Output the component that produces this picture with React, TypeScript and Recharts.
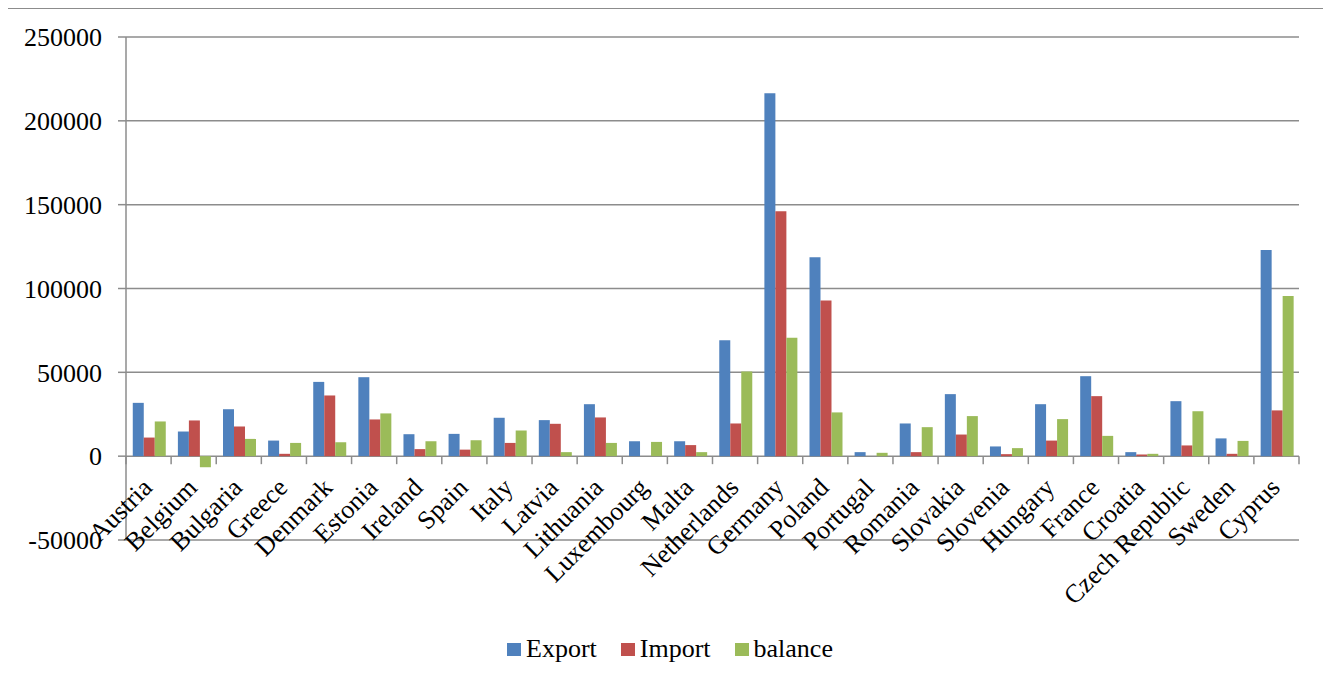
import React from "react";
import { BarChart, Bar, XAxis, YAxis, CartesianGrid } from "recharts";

const countries = [
  "Austria", "Belgium", "Bulgaria", "Greece", "Denmark", "Estonia", "Ireland", "Spain", "Italy",
  "Latvia", "Lithuania", "Luxembourg", "Malta", "Netherlands", "Germany", "Poland", "Portugal",
  "Romania", "Slovakia", "Slovenia", "Hungary", "France", "Croatia", "Czech Republic", "Sweden", "Cyprus",
];
const exportValues = [
  31800, 14700, 28000, 9300, 44300, 47100, 13100, 13300, 22900, 21500, 31000, 8900, 8900, 69200,
  216400, 118600, 2400, 19500, 37000, 5800, 31000, 47700, 2400, 32800, 10600, 122900,
];
const importValues = [
  11100, 21300, 17700, 1400, 36200, 21900, 4200, 3900, 7900, 19300, 23100, 0, 6600, 19500,
  146000, 92900, 0, 2400, 12900, 1200, 9300, 35800, 1000, 6400, 1400, 27300,
];
const balanceValues = [
  20700, -6600, 10300, 7900, 8300, 25500, 8900, 9500, 15300, 2400, 7900, 8500, 2400, 50500,
  70600, 26100, 2000, 17300, 23900, 4800, 22100, 12100, 1400, 26800, 9100, 95600,
];
const yTicks = [-50000, 0, 50000, 100000, 150000, 200000, 250000];

const data = countries.map((name, i) => ({
  name,
  Export: exportValues[i],
  Import: importValues[i],
  balance: balanceValues[i],
}));

const FONT = '"Times New Roman", "Liberation Serif", serif';
const GRID = "#8c8c8c";
const COLORS = { Export: "#4F81BD", Import: "#C0504D", balance: "#9BBB59" };

const W = 1310;
const H = 600;
const M = { top: 28, right: 19, left: 0, bottom: 39 };
const Y_W = 118;
const X_H = 30;
const plotW = W - M.left - M.right - Y_W;
const plotH = H - M.top - M.bottom - X_H;
const band = plotW / countries.length;
// zero line sits one tick step above the bottom of the plot
const zeroFromBottom = plotH / (yTicks.length - 1);

function CountryTick(props: any) {
  const { x, y, payload, index } = props;
  const zy = y - zeroFromBottom;
  const last = index === countries.length - 1;
  return (
    <g>
      <line x1={x - band / 2} x2={x - band / 2} y1={zy} y2={zy + 8} stroke={GRID} strokeWidth={1.5} />
      {last && <line x1={x + band / 2} x2={x + band / 2} y1={zy} y2={zy + 8} stroke={GRID} strokeWidth={1.5} />}
      <text
        x={x + 5}
        y={zy + 33}
        textAnchor="end"
        transform={`rotate(-45 ${x + 5} ${zy + 33})`}
        fontFamily={FONT}
        fontSize={26}
        fill="#000"
      >
        {payload.value}
      </text>
    </g>
  );
}

export default function App() {
  const series = ["Export", "Import", "balance"] as const;
  return (
    <div style={{ position: "relative", width: 1320, height: 668 }}>
      <div
        style={{
          position: "absolute",
          left: -1,
          top: 0,
          width: 1321,
          height: 680,
          boxSizing: "border-box",
          border: "1.5px solid #8c8c8c",
          pointerEvents: "none",
        }}
      />
      <div style={{ position: "absolute", left: 0, top: 1 }}>
        <BarChart width={W} height={H} data={data} margin={M} barCategoryGap="15%" barGap={0}>
          <CartesianGrid vertical={false} stroke={GRID} strokeWidth={1.5} />
          <XAxis
            dataKey="name"
            height={X_H}
            axisLine={false}
            tickLine={false}
            tickSize={0}
            tickMargin={0}
            interval={0}
            tick={<CountryTick />}
          />
          <YAxis
            width={Y_W}
            domain={[-50000, 250000]}
            ticks={yTicks}
            interval={0}
            axisLine={{ stroke: GRID, strokeWidth: 1.5 }}
            tickLine={{ stroke: GRID, strokeWidth: 1.5 }}
            tickSize={8}
            tickMargin={16}
            tick={{ fontFamily: FONT, fontSize: 26, fill: "#000" }}
          />
          {series.map((s) => (
            <Bar key={s} dataKey={s} fill={COLORS[s]} isAnimationActive={false} />
          ))}
        </BarChart>
      </div>
      <div
        style={{
          position: "absolute",
          top: 626,
          left: 2,
          width: "100%",
          display: "flex",
          justifyContent: "center",
          alignItems: "center",
          gap: 24,
          fontFamily: FONT,
          fontSize: 26,
          lineHeight: "30px",
          color: "#000",
        }}
      >
        {series.map((s) => (
          <div key={s} style={{ display: "flex", alignItems: "center", gap: 5 }}>
            <span style={{ width: 14, height: 13, background: COLORS[s], display: "inline-block" }} />
            <span>{s}</span>
          </div>
        ))}
      </div>
    </div>
  );
}
